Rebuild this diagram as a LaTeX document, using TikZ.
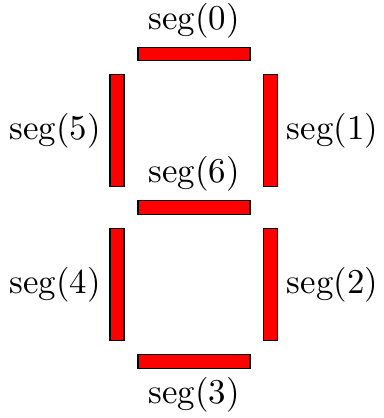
\documentclass[tikz,border=0pt]{standalone}
\usepackage{tikz}
\usetikzlibrary{positioning}

\begin{document}
\begin{tikzpicture}[
    x=0.01048cm, y=-0.01048cm,
    every label/.style={inner sep=2.6pt, font=\fontsize{10.4pt}{12pt}\selectfont},
    seg/.style={draw=black, fill=red, inner sep=0pt, outer sep=0pt},
    hseg/.style={seg, minimum width=33.4pt, minimum height=4pt},
    vseg/.style={seg, minimum width=4.2pt, minimum height=33.4pt}
]
    \useasboundingbox (0,0) rectangle (383,418);

    % the seven bars
    \node[hseg, label=above:seg(0)] (S0) at (194,54) {};
    \node[vseg, label=right:seg(1)] (S1) at (270.5,130.5) {};
    \node[vseg, label=right:seg(2)] (S2) at (270.5,284.5) {};
    \node[hseg, label=below:seg(3)] (S3) at (194,361.5) {};
    \node[vseg, label=left:seg(4)] (S4) at (117,284.5) {};
    \node[vseg, label=left:seg(5)] (S5) at (117,130.5) {};
    \node[hseg, label=above:seg(6)] (S6) at (194,207.5) {};
\end{tikzpicture}
\end{document}
